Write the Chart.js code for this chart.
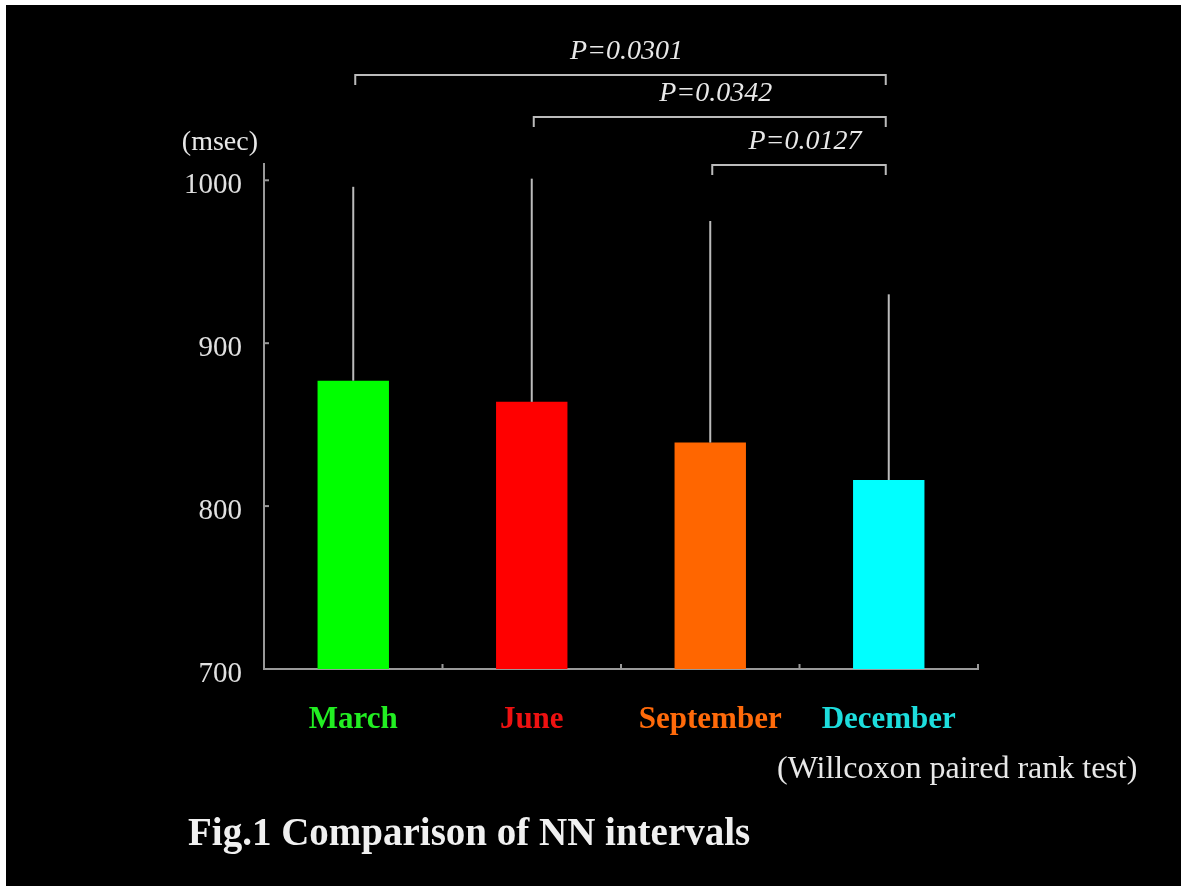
<!DOCTYPE html>
<html>
<head>
<meta charset="utf-8">
<title>Fig.1 Comparison of NN intervals</title>
<script src="https://cdn.jsdelivr.net/npm/chart.js@4.4.1/dist/chart.umd.min.js"></script>
<style>
  html, body { margin: 0; padding: 0; background: #000; overflow: hidden; }
  #edgeTop { position: absolute; left: 0; top: 0; width: 100%; height: 5px; background: #fff; }
  #edgeLeft { position: absolute; left: 0; top: 0; width: 6px; height: 100%; background: #fff; }
  #wrap { position: absolute; left: 6px; top: 5px; background: #000; }
  #nnChart { display: block; }
</style>
</head>
<body>
<div id="edgeTop"></div>
<div id="edgeLeft"></div>
<div id="wrap"><canvas id="nnChart" width="1175" height="881"></canvas></div>
<script>
// NN interval means and SD per season (msec)
const months = ['March', 'June', 'September', 'December'];
const meanNN = [877, 864, 839, 816];
const sdNN = [119, 137, 136, 114];
const barColors = ['#00ff00', '#ff0000', '#ff6600', '#00ffff'];
const labelColors = ['#22ee22', '#ee1111', '#ff6a0a', '#1ddddd'];
const yTicks = [700, 800, 900, 1000];

// significance brackets: pairs of month indexes and their p values
const pairFrom = [0, 1, 2];
const pairTo = [3, 3, 3];
const pLabels = ['P=0.0301', 'P=0.0342', 'P=0.0127'];
const bracketY = [70, 112, 160];

const SERIF = '"Liberation Serif", "DejaVu Serif", serif';

// small inward tick marks on both axes
const axisTicks = {
    id: 'axisTicks',
    afterDraw(chart) {
        const { ctx, chartArea, scales: { y } } = chart;
        ctx.save();
        ctx.strokeStyle = '#999';
        ctx.lineWidth = 2;
        yTicks.forEach(v => {
            const py = y.getPixelForValue(v);
            ctx.beginPath();
            ctx.moveTo(chartArea.left, py);
            ctx.lineTo(chartArea.left + 5, py);
            ctx.stroke();
        });
        const step = (chartArea.right - chartArea.left) / months.length;
        for (let i = 1; i <= months.length; i++) {
            const px = chartArea.left + i * step;
            ctx.beginPath();
            ctx.moveTo(px, chartArea.bottom);
            ctx.lineTo(px, chartArea.bottom - 5);
            ctx.stroke();
        }
        ctx.restore();
    }
};

// SD whiskers, significance brackets and captions
const overlay = {
    id: 'overlay',
    afterDraw(chart) {
        const { ctx, scales: { x, y } } = chart;
        const meta = chart.getDatasetMeta(0);
        ctx.save();

        ctx.strokeStyle = '#bbb';
        ctx.lineWidth = 2;
        meta.data.forEach((bar, i) => {
            ctx.beginPath();
            ctx.moveTo(bar.x, bar.y);
            ctx.lineTo(bar.x, y.getPixelForValue(meanNN[i] + sdNN[i]));
            ctx.stroke();
        });

        ctx.fillStyle = '#e8e8e8';
        ctx.font = 'italic 28px ' + SERIF;
        ctx.textAlign = 'center';
        ctx.textBaseline = 'middle';
        pLabels.forEach((lab, k) => {
            const x1 = x.getPixelForValue(pairFrom[k]) + 2;
            const x2 = x.getPixelForValue(pairTo[k]) - 3;
            const by = bracketY[k];
            ctx.beginPath();
            ctx.moveTo(x1, by + 10);
            ctx.lineTo(x1, by);
            ctx.lineTo(x2, by);
            ctx.lineTo(x2, by + 10);
            ctx.stroke();
            ctx.fillText(lab, (x1 + x2) / 2 + 6, by - 23);
        });

        ctx.font = '28px ' + SERIF;
        ctx.textAlign = 'right';
        ctx.fillText('(msec)', 252, 138);

        ctx.font = '32px ' + SERIF;
        ctx.textAlign = 'left';
        ctx.fillText('(Willcoxon paired rank test)', 771, 765);

        ctx.font = 'bold 39px ' + SERIF;
        ctx.fillStyle = '#f0f0f0';
        ctx.fillText('Fig.1 Comparison of NN intervals', 182, 830);
        ctx.restore();
    }
};

new Chart(document.getElementById('nnChart').getContext('2d'), {
    type: 'bar',
    data: {
        labels: months,
        datasets: [{
            data: meanNN,
            backgroundColor: barColors,
            borderWidth: 0,
            barPercentage: 0.4,
            categoryPercentage: 1.0
        }]
    },
    options: {
        responsive: false,
        animation: false,
        devicePixelRatio: 1,
        layout: { padding: { top: 159, right: 203, left: 0, bottom: 0 } },
        plugins: {
            legend: { display: false },
            tooltip: { enabled: false }
        },
        scales: {
            x: {
                offset: true,
                grid: { display: false },
                border: { display: true, color: '#999', width: 2 },
                ticks: {
                    padding: 24,
                    color: ctx => labelColors[ctx.index],
                    font: { family: SERIF, size: 31, weight: 'bold' }
                },
                afterFit: scale => { scale.height = 217; }
            },
            y: {
                min: 700,
                max: 1010,
                grid: { display: false },
                border: { display: true, color: '#999', width: 2 },
                afterBuildTicks: scale => { scale.ticks = yTicks.map(v => ({ value: v })); },
                ticks: {
                    padding: 14,
                    labelOffset: 5,
                    color: '#e0e0e0',
                    font: { family: SERIF, size: 29 },
                    callback: v => String(v)
                },
                afterFit: scale => { scale.width = 258; }
            }
        }
    },
    plugins: [axisTicks, overlay]
});
</script>
</body>
</html>
